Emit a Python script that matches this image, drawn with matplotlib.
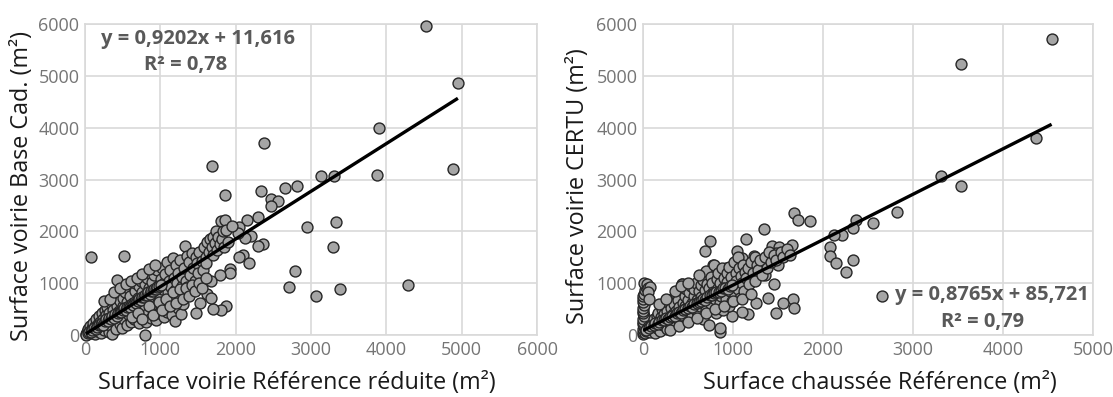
import numpy as np
import matplotlib.pyplot as plt

# --- données (m²) ---
# panneau gauche : Référence réduite (x) vs Base Cad. (y)
ref_reduite = [
    4520, 4950, 3900, 2370, 4880, 3880, 3130, 3300, 1690, 2810,
    2650, 2330, 2470, 2560, 2470, 1860, 2290, 2150, 2950, 3330,
    3290, 2360, 2300, 2200, 2120, 2040, 2030, 2100, 2050, 2180,
    2790, 2710, 3070, 3380, 4290, 80, 520, 800, 430, 1330,
    1870, 1800, 1700, 1620, 1670, 1530, 1470, 1930, 1930, 1790,
    1670,
    12, 20, 33, 41, 48, 62, 70, 83, 91, 104,
    112, 118, 133, 139, 152, 158, 171, 183, 188, 203,
    208, 222, 231, 239, 252, 262, 268, 281, 292, 298,
    304, 312, 318, 331, 343, 349, 362, 368, 383, 391,
    398, 412, 419, 432, 441, 452, 458, 471, 483, 489,
    502, 508, 521, 532, 538, 552, 559, 571, 582, 588,
    603, 611, 618, 632, 639, 652, 661, 668, 683, 688,
    702, 712, 718, 733, 741, 748, 762, 768, 782, 791,
    798, 813, 819, 832, 838, 851, 862, 869, 882, 888,
    902, 908, 922, 928, 942, 951, 958, 972, 978, 992,
    1003, 1008, 1022, 1028, 1043, 1049, 1062, 1068, 1082, 1091,
    1098, 1112, 1118, 1131, 1142, 1155, 1162, 1168, 1182, 1190,
    1201, 1212, 1218, 1232, 1238, 1252, 1261, 1268, 1283, 1289,
    1302, 1308, 1322, 1338, 1352, 1358, 1382, 1398, 1421, 1432,
    1438, 1462, 1468, 1492, 1502, 1518, 1552, 1561, 1578, 1603,
    1612, 1618, 1642, 1658, 1682, 1698, 1705, 1722, 1738, 1752,
    1762, 1788, 1803, 1818, 1832, 1848, 1862, 1878, 1902, 1948,
    16, 37, 52, 78, 97, 122, 148, 163, 187, 207,
    226, 243, 268, 283, 307, 322, 348, 363, 388, 402,
    428, 442, 467, 482, 508, 523, 547, 562, 588, 603,
    627, 642, 668, 682, 707, 722, 748, 762, 788, 802,
    827, 842, 868, 882, 907, 922, 948, 962, 987, 1003,
    620, 700, 760, 850, 900, 980, 1020, 1080, 1130, 1170,
    1210, 1260, 1300, 1340, 1380, 1420, 1460, 1510, 1550, 1600,
    250, 330, 380, 470, 540, 610, 690, 760, 850, 930,
]
base_cad = [
    5970, 4870, 4000, 3710, 3200, 3090, 3070, 3060, 3260, 2880,
    2830, 2770, 2620, 2580, 2480, 2710, 2280, 2210, 2090, 2180,
    1690, 1750, 1720, 1910, 1880, 2090, 1960, 1540, 1510, 1380,
    1240, 920, 750, 890, 960, 1510, 1530, 0, 1070, 1720,
    550, 480, 510, 790, 710, 610, 430, 1270, 1200, 1160,
    1050,
    20, 60, 10, 120, 40, 90, 180, 30, 140, 70,
    230, 110, 10, 170, 300, 80, 210, 360, 140, 260,
    40, 420, 190, 310, 100, 480, 230, 380, 150, 540,
    290, 60, 430, 200, 610, 330, 20, 480, 260, 690,
    380, 120, 560, 790, 300, 460, 220, 650, 380, 140,
    560, 720, 300, 820, 470, 200, 640, 900, 380, 540,
    760, 260, 960, 440, 620, 300, 850, 1000, 520, 380,
    720, 940, 240, 600, 1040, 450, 820, 330, 680, 980,
    540, 250, 1100, 760, 420, 900, 620, 1200, 330, 1020,
    700, 480, 1150, 820, 280, 600, 1260, 950, 420, 730,
    1080, 560, 1300, 880, 340, 1000, 640, 1180, 450, 1400,
    820, 1050, 560, 1250, 930, 380, 1480, 700, 1100, 270,
    860, 1350, 1000, 520, 1200, 780, 1450, 400, 940, 1120,
    600, 1300, 880, 1050, 1520, 920, 1400, 1150, 1580, 880,
    1300, 1040, 1500, 1380, 1200, 1600, 1420, 1250, 1700, 1500,
    1380, 1800, 1600, 1850, 1700, 1900, 1550, 1780, 2000, 1640,
    1900, 1750, 2200, 1850, 2000, 1700, 2220, 2030, 1800, 2100,
    8, 44, 66, 52, 104, 136, 118, 162, 196, 184,
    236, 198, 262, 306, 276, 334, 302, 368, 336, 404,
    374, 426, 446, 438, 476, 514, 486, 536, 552, 546,
    596, 584, 636, 626, 656, 704, 676, 724, 736, 764,
    776, 826, 796, 844, 856, 884, 896, 924, 936, 966,
    350, 420, 300, 560, 380, 640, 480, 700, 560, 820,
    620, 880, 700, 900, 760, 960, 840, 1000, 900, 1100,
    650, 700, 820, 900, 980, 1050, 1100, 1180, 1280, 1350,
]

# panneau droit : chaussée Référence (x) vs CERTU (y)
ref_chaussee = [
    4540, 3530, 4370, 3310, 3530, 2820, 2550, 2370, 2330, 2210,
    2120, 2080, 2080, 2140, 2330, 2260, 2650, 1680, 1720, 1860,
    1340, 1140, 740, 690, 1430, 1510, 1660, 1600, 1480, 1430,
    1500, 1360, 1450, 1390, 1670, 1680, 1560, 1480, 1250, 1170,
    1100, 990, 1040, 1230, 1200, 1100, 1030, 780, 920, 430,
    850, 850,
    0, 5, 0, 10, 0, 5, 0, 10, 0, 5,
    0, 10, 0, 5, 0, 10, 20, 30, 15, 40,
    60, 78, 50, 70,
    22, 38, 61, 79, 102, 108, 122, 128, 141, 152,
    158, 171, 182, 188, 201, 212, 218, 232, 238, 251,
    262, 268, 282, 288, 302, 308, 322, 328, 342, 348,
    362, 368, 382, 388, 402, 408, 422, 428, 442, 448,
    462, 468, 482, 488, 502, 508, 522, 528, 542, 548,
    562, 568, 582, 588, 602, 608, 622, 628, 642, 648,
    662, 668, 682, 688, 698, 703, 712, 718, 732, 738,
    752, 758, 772, 778, 792, 798, 812, 818, 832, 838,
    852, 858, 872, 878, 892, 898, 912, 918, 932, 938,
    952, 958, 972, 978, 992, 998, 1012, 1018, 1032, 1038,
    1052, 1058, 1072, 1078, 1092, 1098, 1112, 1118, 1132, 1148,
    1172, 1178, 1202, 1218, 1242, 1248, 1262, 1278, 1302, 1318,
    1352, 1378, 1402, 1418, 1452, 1478, 1532, 1558, 1602, 1638,
    33, 67, 88, 117, 133, 162, 183, 212, 233, 257,
    273, 302, 323, 352, 373, 397, 418, 447, 468, 497,
    518, 547, 568, 597, 618, 642, 663, 692, 713, 742,
    763, 792, 813, 842, 863, 892, 913, 942, 963, 992,
    180, 260, 350, 420, 500, 620, 300, 400, 500, 600,
    700, 800, 900, 1000, 1100, 1200,
]
certu = [
    5710, 5230, 3810, 3070, 2880, 2380, 2170, 2210, 2070, 1920,
    1920, 1690, 1520, 1380, 1450, 1220, 750, 2360, 2220, 2200,
    2040, 1850, 1820, 1630, 1720, 1700, 1740, 1580, 1580, 1480,
    1350, 1160, 980, 720, 690, 530, 620, 420, 610, 400,
    450, 370, 1630, 1520, 1380, 1480, 1350, 1350, 1290, 980,
    50, 130,
    20, 60, 110, 160, 210, 260, 310, 360, 420, 470,
    520, 580, 640, 700, 760, 800, 860, 930, 1000, 980,
    900, 920, 820, 700,
    30, 80, 150, 60, 200, 120, 300, 40, 220, 360,
    130, 420, 270, 80, 340, 500, 190, 400, 580, 280,
    120, 460, 640, 330, 220, 520, 700, 400, 260, 600,
    800, 470, 320, 680, 540, 880, 380, 980, 620, 460,
    760, 560, 880, 400, 680, 820, 520, 940, 620, 360,
    760, 880, 500, 1000, 680, 400, 840, 560, 960, 740,
    300, 1060, 640, 860, 1240, 480, 980, 720, 200, 900,
    1120, 600, 1000, 820, 1360, 700, 420, 1080, 900, 1200,
    620, 1000, 760, 1300, 480, 1100, 880, 700, 1200, 1020,
    560, 1320, 840, 1120, 660, 960, 1400, 780, 1200, 1050,
    880, 1500, 1300, 720, 1140, 1000, 1350, 840, 1220, 1100,
    1300, 980, 1400, 1200, 1050, 1500, 1350, 1250, 1450, 1150,
    1500, 1300, 1600, 1400, 1550, 1450, 1600, 1500, 1650, 1550,
    106, 138, 164, 194, 226, 204, 258, 284, 296, 334,
    308, 354, 376, 364, 418, 444, 426, 484, 496, 524,
    556, 544, 596, 624, 636, 664, 696, 684, 736, 764,
    776, 804, 836, 824, 856, 904, 916, 884, 944, 956,
    600, 700, 850, 950, 1000, 1150, 100, 180, 250, 330,
    420, 500, 560, 650, 700, 800,
]

# courbes de tendance (équations affichées)
pente = [0.9202, 0.8765]
origine = [11.616, 85.721]
eq_texte = ["y = 0,9202x + 11,616\nR² = 0,78", "y = 0,8765x + 85,721\nR² = 0,79"]

x_labels = ["Surface voirie Référence réduite (m²)", "Surface chaussée Référence (m²)"]
y_labels = ["Surface voirie Base Cad. (m²)", "Surface voirie CERTU (m²)"]
x_max = [6000, 5000]

plt.rcParams['font.family'] = ['Open Sans', 'DejaVu Sans']

fig = plt.figure(figsize=(11.13, 3.97), dpi=100)
ax1 = fig.add_axes([85 / 1113, 62 / 397, 452 / 1113, 311 / 397])
ax2 = fig.add_axes([643 / 1113, 62 / 397, 450 / 1113, 311 / 397])

grid_col = '#d9d9d9'
panels = [(ax1, ref_reduite, base_cad), (ax2, ref_chaussee, certu)]
eq_pos = [[(1500, 5711), (1341, 5209)], [(3878, 772), (3778, 251)]]
xlab_x = [0.469, 0.527]
ylab_x = [-0.139, -0.145]

for i, (ax, xs, ys) in enumerate(panels):
    xs = np.array(xs)
    ys = np.array(ys)
    ax.scatter(xs, ys, s=62, facecolor='#a5a5a5', edgecolor='#262626',
               linewidth=1.0, zorder=3, clip_on=False)

    # droite de régression sur l'étendue des x
    xl = np.array([xs.min(), xs.max()])
    ax.plot(xl, pente[i] * xl + origine[i], color='black', lw=2.4,
            zorder=4, solid_capstyle='butt')

    ax.set_xlim(0, x_max[i])
    ax.set_ylim(0, 6000)
    ax.set_xticks(np.arange(0, x_max[i] + 1, 1000))
    ax.set_yticks(np.arange(0, 6001, 1000))
    ax.grid(True, color=grid_col, lw=1.2, zorder=0)
    ax.set_axisbelow(True)
    for sp in ax.spines.values():
        sp.set_color(grid_col)
        sp.set_linewidth(1.2)
    ax.tick_params(length=0, labelsize=13, labelcolor='#757575', pad=4)

    ax.set_xlabel(x_labels[i], fontsize=16.8, color='#1a1a1a')
    ax.set_ylabel(y_labels[i], fontsize=16.8, color='#1a1a1a')
    ax.xaxis.label.set_va('center')
    ax.yaxis.label.set_va('center')
    ax.xaxis.set_label_coords(xlab_x[i], -0.154)
    ax.yaxis.set_label_coords(ylab_x[i], 0.479)

    l1, l2 = eq_texte[i].split('\n')
    for txt, (tx, ty) in zip([l1, l2], eq_pos[i]):
        ax.text(tx, ty, txt, ha='center', va='center', fontsize=14.5,
                fontweight='bold', color='#595959', zorder=5)

fig.savefig('out.png', dpi=100)
